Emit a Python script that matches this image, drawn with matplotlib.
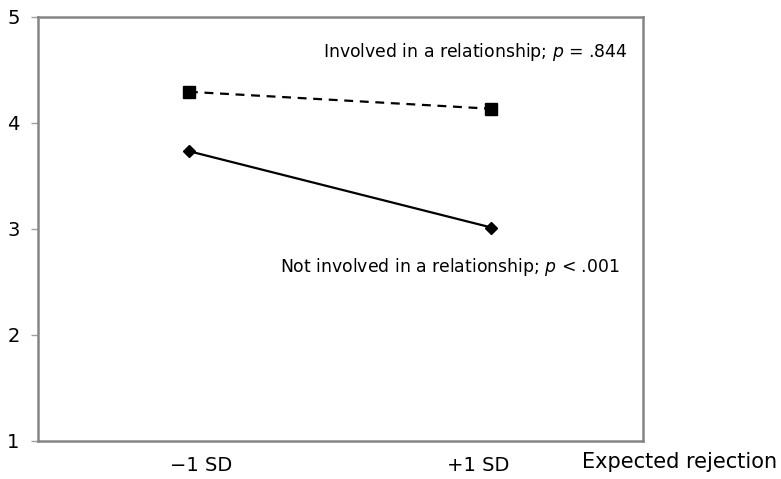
import matplotlib.pyplot as plt

# data
groups = ['−1 SD', '+1 SD']
involved = [4.29, 4.13]       # 交際中
not_involved = [3.73, 3.01]   # 交際なし
y_ticks = [1, 2, 3, 4, 5]

plt.rcParams['font.family'] = ['DejaVu Sans']
plt.rcParams['mathtext.fontset'] = 'dejavusans'

fig = plt.figure(figsize=(7.81, 4.79), dpi=100)
ax = fig.add_axes([37.7 / 781, 1 - 440.7 / 479, 605 / 781, 424.2 / 479])

x = list(range(len(groups)))
ax.plot(x, involved, color='black', linestyle='--', linewidth=1.6,
        marker='s', markersize=8.5, dashes=(4, 3))
ax.plot(x, not_involved, color='black', linestyle='-', linewidth=1.6,
        marker='D', markersize=6.5)

ax.set_xlim(-0.5, 1.5)
ax.set_ylim(1, 5)
ax.set_yticks(y_ticks)
ax.set_yticklabels([str(v) for v in y_ticks], fontsize=14)
ax.tick_params(axis='y', length=5, width=1, color='#a0a0a0', pad=8)

ax.set_xticks([0.04, 0.955])
ax.set_xticklabels(groups, fontsize=14)
ax.tick_params(axis='x', length=0, pad=11)

for s in ax.spines.values():
    s.set_color('#858585')
    s.set_linewidth(1.8)

ax.text(0.443, 4.665, 'Involved in a relationship; $p$ = .844', fontsize=12.4, va='center')
ax.text(0.301, 2.638, 'Not involved in a relationship; $p$ < .001', fontsize=12.4, va='center')

fig.text(582 / 781, 1 - 462 / 479, 'Expected rejection', fontsize=15, va='center')

fig.savefig('out.png', dpi=100)
plt.close()
